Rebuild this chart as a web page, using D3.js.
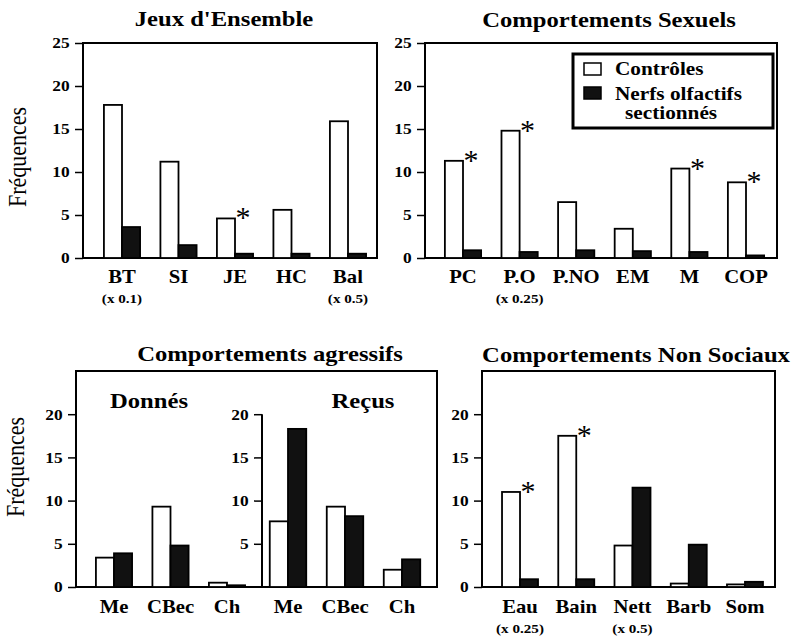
<!DOCTYPE html>
<html>
<head>
<meta charset="utf-8">
<script src="https://cdn.jsdelivr.net/npm/d3@7"></script>
<style>
  body { margin: 0; background: #fff; }
  svg { display: block; font-family: "Liberation Serif", "Times New Roman", serif; }
</style>
</head>
<body>
<svg id="chart" width="795" height="639"></svg>
<script>
// --- data ---
const jeuxCats = ["BT", "SI", "JE", "HC", "Bal"];
const jeuxControles = [17.8, 11.2, 4.6, 5.6, 15.9];
const jeuxSectionnes = [3.6, 1.5, 0.5, 0.5, 0.5];
const jeuxNotes = ["(x 0.1)", "", "", "", "(x 0.5)"];
const jeuxSig = [false, false, true, false, false];

const sexCats = ["PC", "P.O", "P.NO", "EM", "M", "COP"];
const sexControles = [11.3, 14.8, 6.5, 3.4, 10.4, 8.8];
const sexSectionnes = [0.9, 0.7, 0.9, 0.8, 0.7, 0.3];
const sexNotes = ["", "(x 0.25)", "", "", "", ""];
const sexSig = [true, true, false, false, true, true];

const aggCats = ["Me", "CBec", "Ch"];
const donnesControles = [3.4, 9.3, 0.5];
const donnesSectionnes = [3.9, 4.8, 0.2];
const recusControles = [7.6, 9.3, 2.0];
const recusSectionnes = [18.3, 8.2, 3.2];

const nonSocCats = ["Eau", "Bain", "Nett", "Barb", "Som"];
const nonSocControles = [11.0, 17.5, 4.8, 0.4, 0.3];
const nonSocSectionnes = [0.9, 0.9, 11.5, 4.9, 0.6];
const nonSocNotes = ["(x 0.25)", "", "(x 0.5)", "", ""];
const nonSocSig = [true, true, false, false, false];

const topTicks = [0, 5, 10, 15, 20, 25];
const bottomTicks = [0, 5, 10, 15, 20];
const recusTicks = [5, 10, 15, 20];
const seriesNames = ["Contrôles", "Nerfs olfactifs", "sectionnés"];

// --- layout ---
const SX = 1.12; // the scan is slightly stretched sideways
const svg = d3.select("#chart");

const yTop = d3.scaleLinear().domain([0, 25]).range([258, 43]);
const yBot = d3.scaleLinear().domain([0, 25]).range([587, 371]);

function addText(g, x, y, str, size, weight, anchor) {
  return g.append("text")
    .attr("transform", `translate(${x},${y}) scale(${SX},1)`)
    .attr("text-anchor", anchor || "middle")
    .style("font-size", size + "px")
    .style("font-weight", weight || "bold")
    .text(str);
}

function drawAxis(g, y, axisX, ticks) {
  const ax = g.append("g")
    .attr("transform", `translate(${axisX},0)`)
    .call(d3.axisLeft(y).tickValues(ticks).tickSize(8).tickPadding(4).tickSizeOuter(0));
  ax.select(".domain").remove();
  ax.selectAll(".tick line").attr("stroke", "#000").attr("stroke-width", 1.5);
  ax.selectAll(".tick text")
    .attr("fill", "#000")
    .attr("transform", `scale(${SX},1)`)
    .style("font-family", '"Liberation Serif","Times New Roman",serif')
    .style("font-size", "15.5px")
    .style("font-weight", "bold");
}

function drawFrame(g, y, x0, x1) {
  g.append("rect")
    .attr("x", x0).attr("y", y(25))
    .attr("width", x1 - x0).attr("height", y(0) - y(25))
    .attr("fill", "none").attr("stroke", "#000").attr("stroke-width", 2);
}

function drawBars(g, y, cats, ctrl, sect, notes, sig, range, labelY) {
  const x = d3.scaleBand().domain(cats).range(range).paddingInner(0.36).paddingOuter(0.18);
  const sub = d3.scaleBand().domain(["c", "s"]).range([0, x.bandwidth()]);
  const rows = cats.map((c, i) => ({ cat: c, c: ctrl[i], s: sect[i], note: notes ? notes[i] : "", sig: sig ? sig[i] : false }));

  const grp = g.selectAll(null).data(rows).join("g")
    .attr("transform", d => `translate(${x(d.cat)},0)`);

  grp.append("rect")
    .attr("x", sub("c")).attr("width", sub.bandwidth())
    .attr("y", d => y(d.c)).attr("height", d => y(0) - y(d.c))
    .attr("fill", "#fff").attr("stroke", "#000").attr("stroke-width", 1.8);

  grp.append("rect")
    .attr("x", sub("s")).attr("width", sub.bandwidth())
    .attr("y", d => y(d.s)).attr("height", d => y(0) - y(d.s))
    .attr("fill", "#111").attr("stroke", "#000").attr("stroke-width", 1.8);

  rows.forEach(d => {
    const cx = x(d.cat) + x.bandwidth() / 2;
    addText(g, cx, labelY, d.cat, 18.5);
    if (d.note) addText(g, cx, labelY + 20, d.note, 13.5);
    if (d.sig) {
      g.append("text")
        .attr("x", x(d.cat) + sub("c") + sub.bandwidth() + 8)
        .attr("y", y(d.c) + 9)
        .attr("text-anchor", "middle")
        .style("font-size", "30px")
        .text("*");
    }
  });
}

function yLabel(cx, cy) {
  svg.append("text")
    .attr("transform", `translate(${cx},${cy}) scale(${SX},1) rotate(-90)`)
    .attr("text-anchor", "middle")
    .style("font-size", "22px")
    .text("Fréquences");
}

// Jeux d'Ensemble
const g1 = svg.append("g");
drawFrame(g1, yTop, 83, 377);
drawAxis(g1, yTop, 83, topTicks);
drawBars(g1, yTop, jeuxCats, jeuxControles, jeuxSectionnes, jeuxNotes, jeuxSig, [93.75, 376.25], 283);
addText(g1, 224, 26, "Jeux d'Ensemble", 22);
yLabel(26, 157);

// Comportements Sexuels
const g2 = svg.append("g");
drawFrame(g2, yTop, 425, 777);
drawAxis(g2, yTop, 425, topTicks);
drawBars(g2, yTop, sexCats, sexControles, sexSectionnes, sexNotes, sexSig, [434.7, 774.3], 283);
addText(g2, 609, 27, "Comportements Sexuels", 22);

// legend
const lg = g2.append("g");
lg.append("rect").attr("x", 573).attr("y", 54).attr("width", 200).attr("height", 74)
  .attr("fill", "#fff").attr("stroke", "#000").attr("stroke-width", 3);
lg.append("rect").attr("x", 584).attr("y", 63).attr("width", 17).attr("height", 12)
  .attr("fill", "#fff").attr("stroke", "#000").attr("stroke-width", 1.5);
lg.append("rect").attr("x", 584).attr("y", 87).attr("width", 17).attr("height", 12)
  .attr("fill", "#111").attr("stroke", "#000").attr("stroke-width", 1.5);
addText(lg, 615, 75, seriesNames[0], 19, "bold", "start");
addText(lg, 615, 100, seriesNames[1], 19, "bold", "start");
addText(lg, 625, 119, seriesNames[2], 19, "bold", "start");

// Comportements agressifs
const g3 = svg.append("g");
drawFrame(g3, yBot, 76, 437);
drawAxis(g3, yBot, 76, bottomTicks);
g3.append("line").attr("x1", 262).attr("x2", 262).attr("y1", yBot(0)).attr("y2", yBot(20))
  .attr("stroke", "#000").attr("stroke-width", 2);
drawAxis(g3, yBot, 262, recusTicks);
drawBars(g3, yBot, aggCats, donnesControles, donnesSectionnes, null, null, [85.75, 255.25], 613);
drawBars(g3, yBot, aggCats, recusControles, recusSectionnes, null, null, [259.5, 430.5], 613);
addText(g3, 270, 361, "Comportements agressifs", 22);
addText(g3, 149, 408, "Donnés", 22);
addText(g3, 363, 408, "Reçus", 22);
yLabel(24, 467);

// Comportements Non Sociaux
const g4 = svg.append("g");
drawFrame(g4, yBot, 482, 775);
drawAxis(g4, yBot, 482, bottomTicks);
drawBars(g4, yBot, nonSocCats, nonSocControles, nonSocSectionnes, nonSocNotes, nonSocSig, [491.9, 773.1], 613);
addText(g4, 636, 362, "Comportements Non Sociaux", 22);
</script>
</body>
</html>
